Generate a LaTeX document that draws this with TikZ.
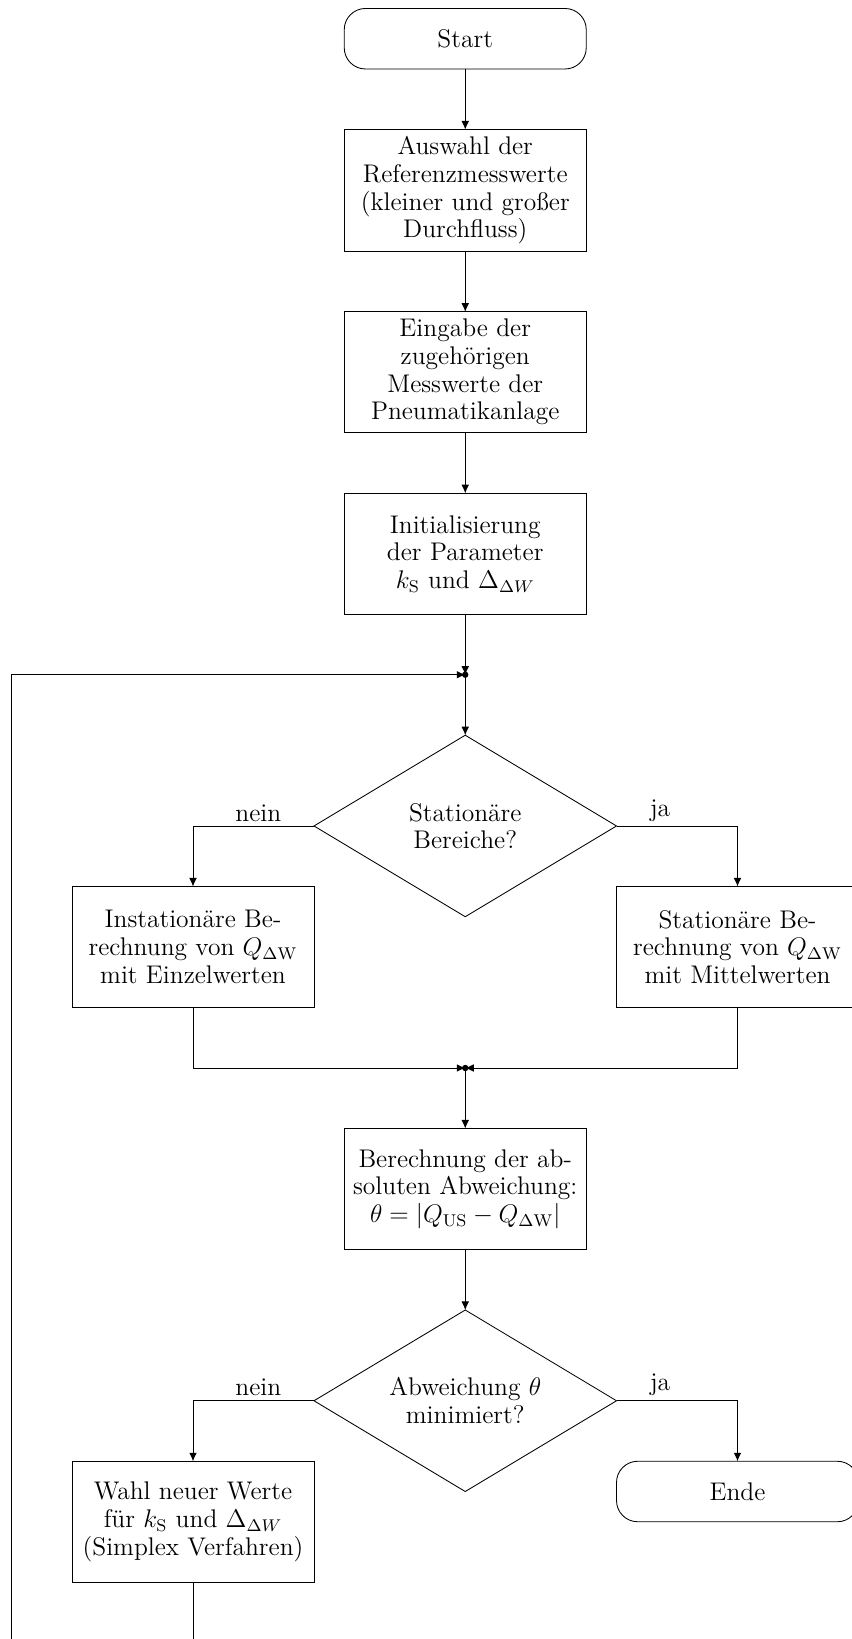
\documentclass[tikz,border=0pt]{standalone}
\usepackage{amsmath}
\usepackage{tikz}
\usetikzlibrary{arrows.meta, positioning}
\usetikzlibrary{shapes.geometric}
\usetikzlibrary{calc}

\tikzset{
    txt/.style={font=\fontsize{12}{13}\selectfont},
    proc/.style={rectangle, draw, txt, align=center, outer sep=0pt, minimum width=4cm, minimum height=2cm},
    term/.style={rectangle, draw, txt, rounded corners=0.35cm, outer sep=0pt, minimum width=4cm, minimum height=1cm},
    dec/.style={diamond, draw, txt, align=center, aspect=1.667, inner sep=0pt, outer sep=0pt, minimum width=5cm, minimum height=3cm},
    arr/.style={-{Latex[length=4pt, width=3.6pt]}},
    lbl/.style={above, txt, inner sep=2pt}
}

\begin{document}
\begin{tikzpicture}
        % frame of the page
        \useasboundingbox (-7.69,0.64) rectangle (6.39,-26.45);
        \clip (-7.69,0.64) rectangle (6.39,-26.45);

        % main column
        \node[term] (start) {Start};
        \node[proc, below=1cm of start] (ref) {Auswahl der\\Referenzmesswerte\\(kleiner und gro\ss er\\Durchfluss)};
        \node[proc, below=1cm of ref] (eing) {Eingabe der\\zugeh\"origen\\Messwerte der\\Pneumatikanlage};
        \node[proc, below=1cm of eing] (init) {Initialisierung\\der Parameter\\$k_\mathrm{S}$ und $\Delta_{\Delta W}$};
        \coordinate[below=1cm of init] (j1);
        \node[dec, below=1cm of j1] (d1) {Station\"are\\Bereiche?};

        % branches of the first test
        \node[proc, below left=1cm and 2.5cm of d1.center] (inst) {Instation\"are Be-\\rechnung von $Q_{\Delta\mathrm{W}}$\\mit Einzelwerten};
        \node[proc, below right=1cm and 2.5cm of d1.center] (stat) {Station\"are Be-\\rechnung von $Q_{\Delta\mathrm{W}}$\\mit Mittelwerten};
        \coordinate (j2) at ($(inst.south -| d1)+(0,-1cm)$);

        \node[proc, below=1cm of j2] (abw) {Berechnung der ab-\\soluten Abweichung:\\$\theta = |Q_\mathrm{US} - Q_{\Delta\mathrm{W}}|$};
        \node[dec, below=1cm of abw] (d2) {Abweichung $\theta$\\minimiert?};

        % branches of the second test
        \node[proc, below left=1cm and 2.5cm of d2.center] (wahl) {Wahl neuer Werte\\f\"ur $k_\mathrm{S}$ und $\Delta_{\Delta W}$\\(Simplex Verfahren)};
        \node[term, below right=1cm and 2.5cm of d2.center] (ende) {Ende};
        \coordinate[below=1cm of wahl] (lp);
        \coordinate (lpl) at ($(wahl.west |- lp)+(-1cm,0)$);

        % edges
        \draw[arr] (start) -- (ref);
        \draw[arr] (ref) -- (eing);
        \draw[arr] (eing) -- (init);
        \draw[arr] (init) -- (j1);
        \draw[arr] (wahl) -- (lp) -- (lpl) |- (j1);
        \fill (j1) circle (1.5pt);
        \draw[arr] (j1) -- (d1);

        \draw[arr] (d1.west) -| node[lbl, pos=0.23] {nein} (inst);
        \draw[arr] (d1.east) -| node[lbl, pos=0.18] {ja} (stat);
        \draw[arr] (inst) |- (j2);
        \draw[arr] (stat) |- (j2);
        \fill (j2) circle (1.5pt);
        \draw[arr] (j2) -- (abw);
        \draw[arr] (abw) -- (d2);

        \draw[arr] (d2.west) -| node[lbl, pos=0.23] {nein} (wahl);
        \draw[arr] (d2.east) -| node[lbl, pos=0.18] {ja} (ende);
    \end{tikzpicture}
\end{document}
